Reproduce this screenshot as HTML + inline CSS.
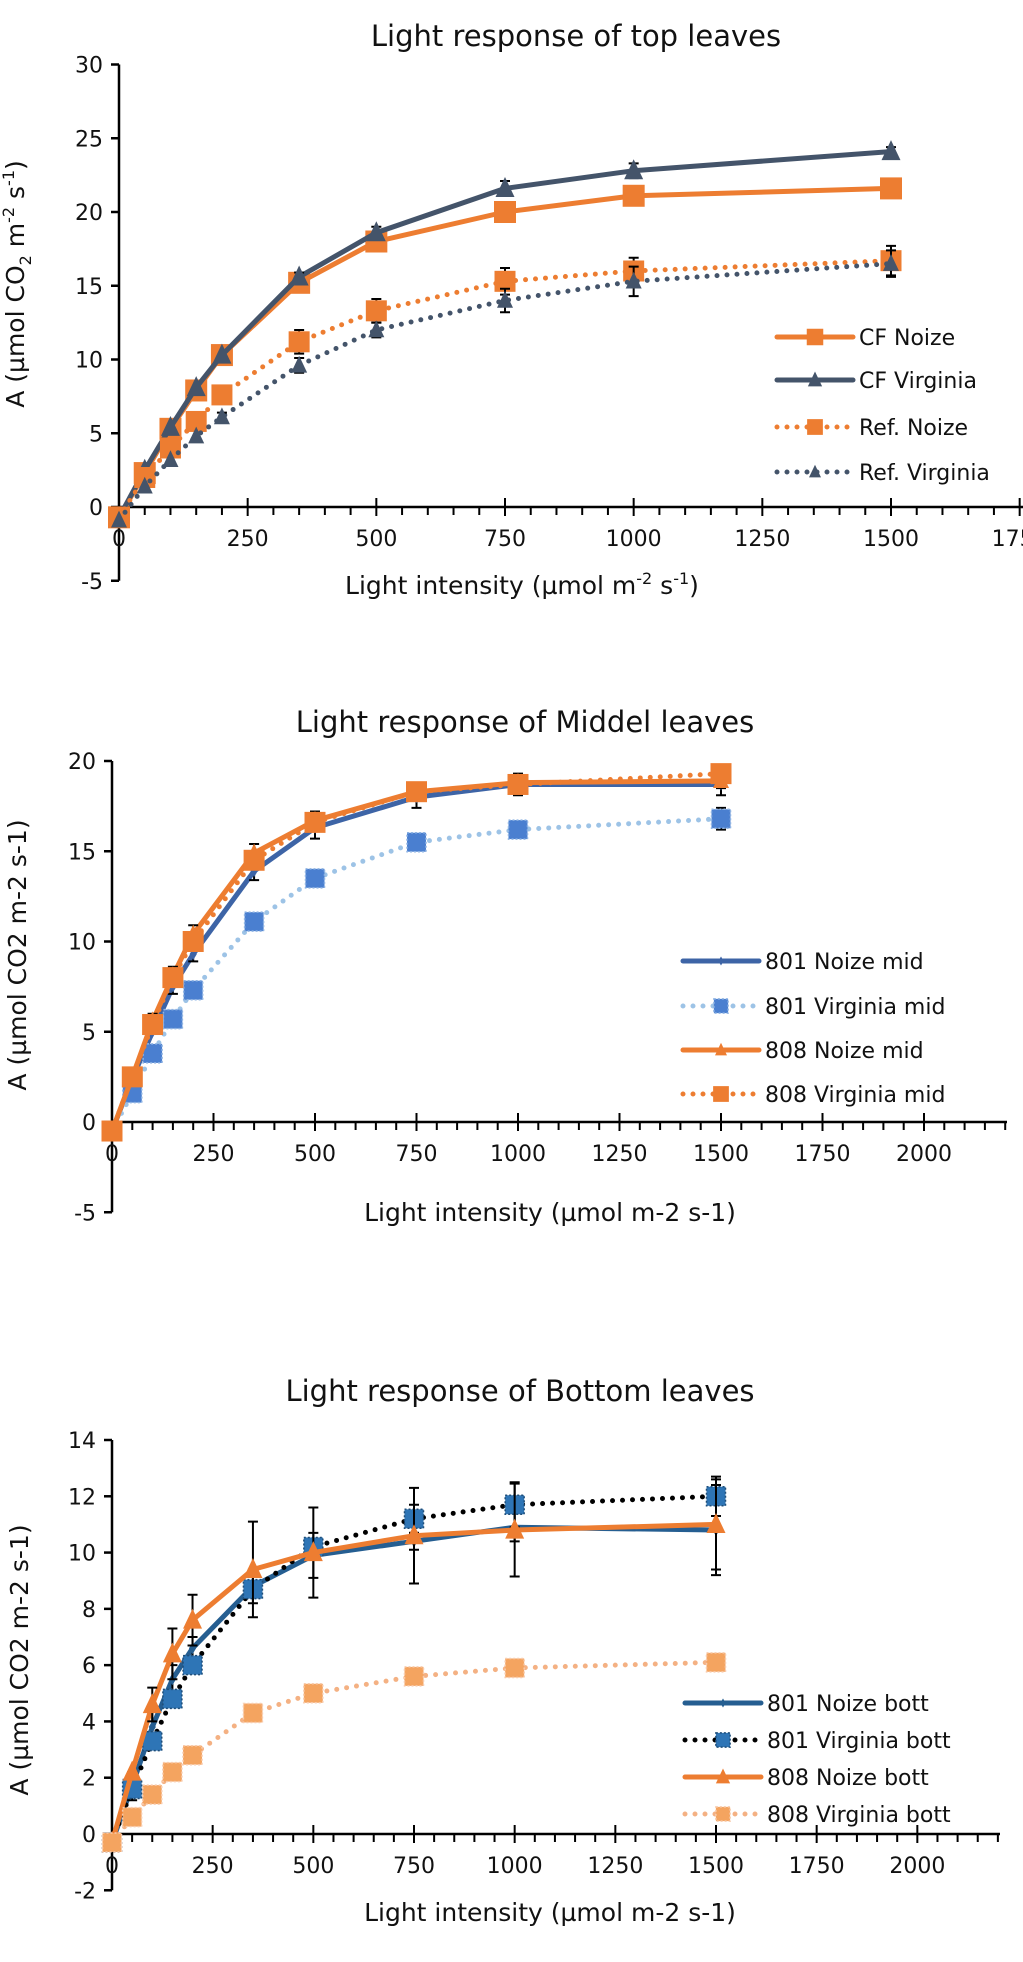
<!DOCTYPE html>
<html><head><meta charset="utf-8">
<style>
html,body{margin:0;padding:0;background:#fff;}
svg{display:block;font-family:"DejaVu Sans","Liberation Sans",sans-serif;}
</style></head>
<body>
<svg id="svg" width="1023" height="1962" viewBox="0 0 1023 1962" xmlns="http://www.w3.org/2000/svg"></svg>
<script>
// ---------- shared x categories ----------
const xLight = [0, 50, 100, 150, 200, 350, 500, 750, 1000, 1500];

// ---------- chart 1: top leaves ----------
const topCFNoize = [-0.7, 2.3, 5.3, 7.9, 10.3, 15.2, 18.0, 20.0, 21.1, 21.6];
const topCFVirginia = [-0.7, 2.5, 5.4, 8.1, 10.3, 15.6, 18.6, 21.6, 22.8, 24.1];
const topRefNoize = [-0.7, 2.0, 4.0, 5.8, 7.6, 11.2, 13.3, 15.3, 16.0, 16.7];
const topRefVirginia = [-0.9, 1.4, 3.2, 4.8, 6.1, 9.6, 12.0, 14.0, 15.3, 16.5];
const topErrCFNoize = [0, 0, 0, 0, 0, 0, 0.3, 0.4, 0.4, 0.3];
const topErrCFVirginia = [0, 0, 0, 0, 0, 0.3, 0.4, 0.5, 0.5, 0.3];
const topErrRefNoize = [0, 0, 0, 0, 0, 0.8, 0.8, 0.9, 0.9, 1.0];
const topErrRefVirginia = [0, 0, 0, 0, 0.3, 0.5, 0.5, 0.8, 1.0, 0.9];
const topYTicks = [-5, 0, 5, 10, 15, 20, 25, 30];
const topXTicks = [0, 250, 500, 750, 1000, 1250, 1500, 1750];

// ---------- chart 2: middle leaves ----------
const mid801Noize = [-0.5, 2.4, 5.0, 7.5, 9.3, 13.9, 16.3, 18.0, 18.7, 18.7];
const mid801Virginia = [-0.5, 1.6, 3.8, 5.7, 7.3, 11.1, 13.5, 15.5, 16.2, 16.8];
const mid808Noize = [-0.5, 2.5, 5.6, 8.1, 10.4, 14.9, 16.7, 18.3, 18.8, 18.9];
const mid808Virginia = [-0.5, 2.5, 5.4, 8.0, 10.0, 14.5, 16.6, 18.3, 18.7, 19.3];
const midErr801Noize = [0, 0, 0, 0.4, 0.4, 0.5, 0.6, 0.6, 0.6, 0.6];
const midErr801Virginia = [0, 0, 0, 0, 0, 0, 0, 0, 0.3, 0.6];
const midErr808Noize = [0, 0, 0.4, 0.5, 0.5, 0.5, 0.5, 0.4, 0.4, 0.4];
const midErr808Virginia = [0, 0, 0, 0, 0, 0, 0, 0, 0.3, 0.3];
const midYTicks = [-5, 0, 5, 10, 15, 20];
const midXTicks = [0, 250, 500, 750, 1000, 1250, 1500, 1750, 2000];

// ---------- chart 3: bottom leaves ----------
const bot801Noize = [-0.3, 1.7, 3.8, 5.5, 6.6, 8.8, 9.9, 10.4, 10.9, 10.8];
const bot801Virginia = [-0.3, 1.6, 3.3, 4.8, 6.0, 8.7, 10.2, 11.2, 11.7, 12.0];
const bot808Noize = [-0.3, 2.2, 4.6, 6.4, 7.6, 9.4, 10.0, 10.6, 10.8, 11.0];
const bot808Virginia = [-0.3, 0.6, 1.4, 2.2, 2.8, 4.3, 5.0, 5.6, 5.9, 6.1];
const botErr801Noize = [0, 0.5, 0.6, 0.5, 0.4, 0.6, 0.8, 0.3, 0.5, 1.6];
const botErr801Virginia = [0, 0, 0, 0, 0, 0, 0, 0.5, 0.8, 0.7];
const botErr808Noize = [0, 0, 0.6, 0.9, 0.9, 1.7, 1.6, 1.7, 1.65, 1.6];
const botErr808Virginia = [0, 0, 0, 0, 0, 0, 0, 0, 0, 0];
const botYTicks = [-2, 0, 2, 4, 6, 8, 10, 12, 14];
const botXTicks = [0, 250, 500, 750, 1000, 1250, 1500, 1750, 2000];

const NS = "http://www.w3.org/2000/svg";
const svg = document.getElementById('svg');
function mk(tag, attrs, parent) {
  const e = document.createElementNS(NS, tag);
  for (const k in attrs) e.setAttribute(k, attrs[k]);
  (parent || svg).appendChild(e);
  return e;
}

function marker(g, shape, x, y, color, size, dotted) {
  let m;
  if (shape === 'square') {
    m = mk('rect', {x: x - size/2, y: y - size/2, width: size, height: size, fill: color}, g);
    if (dotted) m.setAttribute('stroke', dotted), m.setAttribute('stroke-width', 1.5), m.setAttribute('stroke-dasharray', '2 2');
  } else if (shape === 'triangle') {
    const s = size;
    m = mk('polygon', {points: `${x},${y - s*0.6} ${x - s/2},${y + s*0.45} ${x + s/2},${y + s*0.45}`, fill: color}, g);
  } else if (shape === 'diamond') {
    const s = size/2;
    m = mk('polygon', {points: `${x},${y-s} ${x+s*0.6},${y} ${x},${y+s} ${x-s*0.6},${y}`, fill: color}, g);
  }
  return m;
}

function drawChart(cfg) {
  const g = mk('g', {});
  
  
  const xs = v => cfg.x0 + (v - 0) * (cfg.x1500 - cfg.x0) / 1500;
  const ys = v => cfg.yZero - v * cfg.pxPerUnit;
  const t = mk('text', {x: cfg.titleX, y: cfg.titleY, 'text-anchor': 'middle', 'font-size': 29, fill: '#111'}, g);
  t.textContent = cfg.title;
  
  
  const yTop = ys(cfg.yTicks[cfg.yTicks.length - 1]);
  const yBot = ys(cfg.yTicks[0]);
  const ya = mk('line', {x1: cfg.x0, y1: yTop, x2: cfg.x0, y2: yBot, stroke: '#000', 'stroke-width': 2.5}, g);
  
  
  cfg.yTicks.forEach(v => {
    mk('line', {x1: cfg.x0 - 8, y1: ys(v), x2: cfg.x0, y2: ys(v), stroke: '#000', 'stroke-width': 2.5}, g);
    const tl = mk('text', {x: cfg.x0 - 16, y: ys(v) + 8, 'text-anchor': 'end', 'font-size': 22, fill: '#111'}, g);
    tl.textContent = v;
    
    
  });
  const xa = mk('line', {x1: cfg.x0, y1: ys(0), x2: cfg.xEnd, y2: ys(0), stroke: '#000', 'stroke-width': 2.5}, g);
  
  
  for (let v = 50; xs(v) <= cfg.xEnd + 1; v += 50) {
    const major = v % 250 === 0;
    mk('line', {x1: xs(v), y1: ys(0) - (major ? 9 : 0), x2: xs(v), y2: ys(0) + (major ? 9 : 8), stroke: '#000', 'stroke-width': 2}, g);
  }
  cfg.xTicks.forEach(v => {
    const tl = mk('text', {x: xs(v), y: ys(0) + 39, 'text-anchor': 'middle', 'font-size': 22, fill: '#111'}, g);
    tl.textContent = v;
    
    
  });
  const xt = mk('text', {x: cfg.xLabelX, y: cfg.xLabelY, 'text-anchor': 'middle', 'font-size': 25, fill: '#111'}, g);
  xt.innerHTML = cfg.xLabel;
  
  
  const yt = mk('text', {x: 0, y: 0, 'text-anchor': 'middle', 'font-size': 25, fill: '#111', transform: `translate(${cfg.yLabelX},${cfg.yLabelY}) rotate(-90)`}, g);
  yt.innerHTML = cfg.yLabel;
  
  
  cfg.series.forEach(s => {
    const sg = mk('g', {}, g);
    
    
    const pts = xLight.map((x, i) => `${xs(x)},${ys(s.data[i])}`).join(' ');
    const line = mk('polyline', {points: pts, fill: 'none', stroke: s.color, 'stroke-width': 5, 'stroke-linecap': 'round', 'stroke-linejoin': 'round'}, sg);
    if (s.dotted) line.setAttribute('stroke-dasharray', '0 10');
    
    
    xLight.forEach((x, i) => {
      const e = s.err[i];
      if (e > 0) {
        const eb = mk('path', {d: `M${xs(x)},${ys(s.data[i] + e)} V${ys(s.data[i] - e)} M${xs(x)-5},${ys(s.data[i]+e)} h10 M${xs(x)-5},${ys(s.data[i]-e)} h10`, stroke: '#000', 'stroke-width': 2, fill: 'none'}, sg);
        
        
      }
    });
    xLight.forEach((x, i) => {
      const m = marker(sg, s.shape, xs(x), ys(s.data[i]), s.mColor || s.color, s.size, s.mDotted);
      
      
    });
    const lg = mk('g', {}, g);
    
    
    const ly = s.legY;
    const ll = mk('line', {x1: cfg.legX1, y1: ly, x2: cfg.legX2, y2: ly, stroke: s.color, 'stroke-width': 5, 'stroke-linecap': 'round'}, lg);
    if (s.dotted) ll.setAttribute('stroke-dasharray', '0 10');
    marker(lg, s.shape, (cfg.legX1 + cfg.legX2) / 2, ly, s.mColor || s.color, s.size * 0.75, s.mDotted);
    const lt = mk('text', {x: cfg.legX2 + 6, y: ly + 8, 'font-size': 22, fill: '#111'}, lg);
    lt.textContent = s.label;
  });
}

const ORANGE = '#ed7d31', SLATE = '#44546a';
drawChart({
  name: 'chart-top-leaves', title: 'Light response of top leaves', titleX: 576, titleY: 46,
  x0: 119, x1500: 891, xEnd: 1023, yZero: 507, pxPerUnit: (507 - 64.5) / 30,
  yTicks: topYTicks, xTicks: topXTicks,
  xLabel: 'Light intensity (µmol m<tspan font-size="16" dy="-10">-2</tspan><tspan dy="10"> s</tspan><tspan font-size="16" dy="-10">-1</tspan><tspan dy="10">)</tspan>',
  xLabelX: 522, xLabelY: 594,
  yLabel: 'A (µmol CO<tspan font-size="16" dy="7">2</tspan><tspan dy="-7"> m</tspan><tspan font-size="16" dy="-10">-2</tspan><tspan dy="10"> s</tspan><tspan font-size="16" dy="-10">-1</tspan><tspan dy="10">)</tspan>',
  yLabelX: 24, yLabelY: 284,
  legX1: 777, legX2: 853,
  series: [
    {key: 'cf-noize', label: 'CF Noize', data: topCFNoize, err: topErrCFNoize, color: ORANGE, shape: 'square', size: 22, legY: 337},
    {key: 'cf-virginia', label: 'CF Virginia', data: topCFVirginia, err: topErrCFVirginia, color: SLATE, shape: 'triangle', size: 19, legY: 380},
    {key: 'ref-noize', label: 'Ref. Noize', data: topRefNoize, err: topErrRefNoize, color: ORANGE, shape: 'square', size: 21, dotted: true, legY: 427},
    {key: 'ref-virginia', label: 'Ref. Virginia', data: topRefVirginia, err: topErrRefVirginia, color: SLATE, shape: 'triangle', size: 16, dotted: true, legY: 472}
  ]
});

drawChart({
  name: 'chart-middle-leaves', title: 'Light response of Middel leaves', titleX: 525, titleY: 732,
  x0: 112, x1500: 721, xEnd: 1007, yZero: 1122, pxPerUnit: (1122 - 761) / 20,
  yTicks: midYTicks, xTicks: midXTicks,
  xLabel: 'Light intensity (µmol m-2 s-1)', xLabelX: 550, xLabelY: 1221,
  yLabel: 'A (µmol CO2 m-2 s-1)', yLabelX: 26, yLabelY: 955,
  legX1: 683, legX2: 759,
  series: [
    {key: '801-noize-mid', label: '801 Noize mid', data: mid801Noize, err: midErr801Noize, color: '#3d64a6', shape: 'diamond', size: 12, legY: 961},
    {key: '801-virginia-mid', label: '801 Virginia mid', data: mid801Virginia, err: midErr801Virginia, color: '#9dc3e6', mColor: '#4a7fd0', shape: 'square', size: 19, dotted: true, mDotted: '#8fb4e3', legY: 1006},
    {key: '808-noize-mid', label: '808 Noize mid', data: mid808Noize, err: midErr808Noize, color: ORANGE, shape: 'triangle', size: 16, legY: 1050},
    {key: '808-virginia-mid', label: '808 Virginia mid', data: mid808Virginia, err: midErr808Virginia, color: ORANGE, shape: 'square', size: 21, dotted: true, legY: 1094}
  ]
});

drawChart({
  name: 'chart-bottom-leaves', title: 'Light response of Bottom leaves', titleX: 520, titleY: 1401,
  x0: 112, x1500: 716, xEnd: 1000, yZero: 1834, pxPerUnit: (1834 - 1440) / 14,
  yTicks: botYTicks, xTicks: botXTicks,
  xLabel: 'Light intensity (µmol m-2 s-1)', xLabelX: 550, xLabelY: 1921,
  yLabel: 'A (µmol CO2 m-2 s-1)', yLabelX: 28, yLabelY: 1660,
  legX1: 685, legX2: 761,
  series: [
    {key: '801-noize-bott', label: '801 Noize bott', data: bot801Noize, err: botErr801Noize, color: '#255e91', shape: 'diamond', size: 12, legY: 1703},
    {key: '801-virginia-bott', label: '801 Virginia bott', data: bot801Virginia, err: botErr801Virginia, color: '#000', mColor: '#2e75b6', shape: 'square', size: 19, dotted: true, mDotted: '#1f4e79', legY: 1740},
    {key: '808-noize-bott', label: '808 Noize bott', data: bot808Noize, err: botErr808Noize, color: ORANGE, shape: 'triangle', size: 19, legY: 1777},
    {key: '808-virginia-bott', label: '808 Virginia bott', data: bot808Virginia, err: botErr808Virginia, color: '#f4b183', mColor: '#f4a460', shape: 'square', size: 19, dotted: true, mDotted: '#f8cbad', legY: 1814}
  ]
});
</script>
</body></html>
